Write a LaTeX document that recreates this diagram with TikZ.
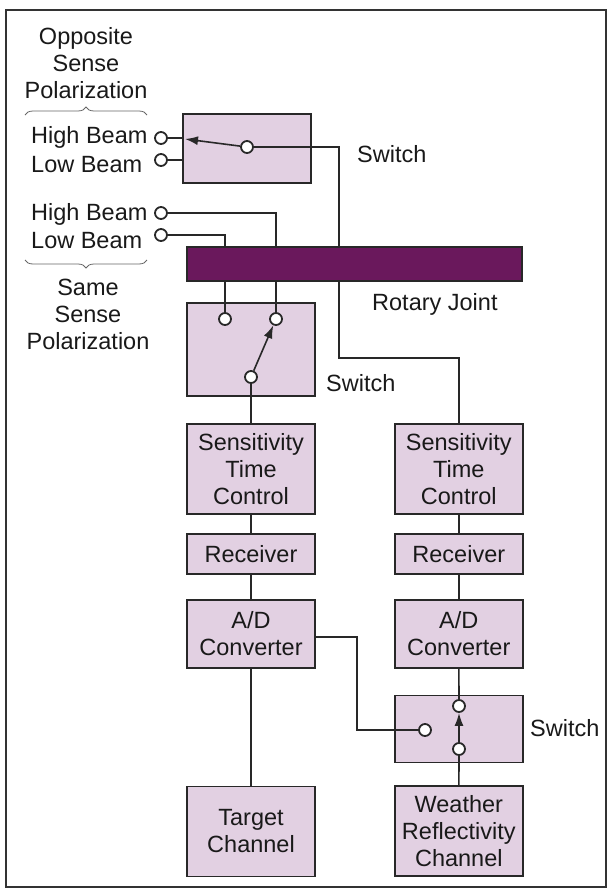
\documentclass[tikz,border=0pt]{standalone}
\usepackage{fontspec}
\setmainfont{Liberation Sans}
\usepackage{xcolor}
\usepackage{tikz}
\usetikzlibrary{arrows.meta,positioning,decorations.pathreplacing}
\definecolor{boxfill}{RGB}{226,208,226}
\definecolor{jointfill}{RGB}{106,24,92}
\definecolor{wire}{RGB}{40,40,40}
\tikzset{
  >={Latex[length=13pt,width=9pt]},
  blk/.style={draw=wire, line width=1.8pt, fill=boxfill, align=center, minimum width=128pt, inner sep=2pt, text=black!90},
  joint/.style={draw=wire, line width=1.5pt, fill=jointfill, minimum width=335pt, minimum height=34pt},
  contact/.style={circle, draw=wire, line width=1.8pt, fill=white, minimum size=12pt, inner sep=0pt},
  wirel/.style={draw=wire, line width=1.6pt},
  arm/.style={wirel, ->},
  lbl/.style={inner sep=0pt, anchor=base west, text=black!90},
  polar/.style={inner sep=0pt, align=center, text=black!90},
  bracel/.style={draw=black!60, line width=0.8pt, decorate, decoration={brace, amplitude=8pt}},
}
\begin{document}
\begin{tikzpicture}[x=1pt, y=-1pt, font=\fontsize{23.5}{27}\selectfont, node distance=18pt and 78pt]
  \useasboundingbox (0,0) rectangle (608,889);
  \draw[draw=black!80, line width=1.6pt] (6,10) rectangle (606,887);

  \node[polar] (oppo) at (86,63) {Opposite\\Sense\\Polarization};
  \node[polar] (same) at (88,314) {Same\\Sense\\Polarization};
  \draw[bracel] (25,115) -- (147,115);
  \draw[bracel] (147,260) -- (25,260);

  \node[lbl] (hbopp) at (31,143) {High Beam};
  \node[lbl] (lbopp) at (31,172) {Low Beam};
  \node[lbl] (hbsame) at (31,220) {High Beam};
  \node[lbl] (lbsame) at (31,248) {Low Beam};
  \node[contact] (hbo) at (161,138) {};
  \node[contact] (lbo) at (161,160) {};
  \node[contact] (hbs) at (161,213) {};
  \node[contact] (lbs) at (161,235) {};

  \node[blk, minimum height=69pt] (topsw) at (247,148.5) {};
  \node[contact] (toppiv) at (247,147) {};
  \coordinate (armend) at (185,139);
  \node[lbl] (toplbl) at (357,162) {Switch};

  \node[joint] (rj) at (354.5,264) {};
  \node[lbl] (rjlbl) at (372,310) {Rotary Joint};
  \coordinate (rjdrop) at (339,358);

  \node[blk, minimum height=93pt] (losw) at (251,349.5) {};
  \node[contact] (swa) at (225,319) {};
  \node[contact] (swb) at (276,319) {};
  \node[contact] (swpiv) at (251,377) {};
  \node[lbl] (lolbl) at (326,391) {Switch};

  \node[blk, minimum height=90pt] (stcl) at (251,469) {Sensitivity\\Time\\Control};
  \node[blk, minimum height=40pt, below=of stcl] (recl) {Receiver};
  \node[blk, minimum height=68pt, below=24pt of recl] (adcl) {A/D\\Converter};
  \node[blk, minimum height=90pt, below=117pt of adcl] (tgt) {Target\\Channel};

  \node[blk, minimum height=90pt, right=of stcl] (stcr) {Sensitivity\\Time\\Control};
  \node[blk, minimum height=40pt, below=of stcr] (recr) {Receiver};
  \node[blk, minimum height=68pt, below=24pt of recr] (adcr) {A/D\\Converter};
  \node[blk, minimum height=67pt, below=26pt of adcr] (bsw) {};
  \node[blk, minimum height=90pt, below=22pt of bsw] (wx) {Weather\\Reflectivity\\Channel};

  \node[contact] (bstop) at (459,706) {};
  \node[contact] (bsbot) at (459,749) {};
  \node[contact] (bsside) at (425,730) {};
  \node[lbl] (bslbl) at (530,736) {Switch};
  \coordinate (adbend) at (357,637);

  \draw[wirel] (hbo) -- (hbo -| topsw.west);
  \draw[wirel] (lbo) -- (lbo -| topsw.west);
  \draw[arm] (toppiv) -- (armend);
  \draw[wirel] (toppiv) -| (rj.north -| rjdrop);
  \draw[wirel] (rj.south -| rjdrop) -- (rjdrop) -| (stcr.north);
  \draw[wirel] (hbs) -| (rj.north -| swb);
  \draw[wirel] (lbs) -| (rj.north -| swa);
  \draw[wirel] (rj.south -| swa) -- (swa);
  \draw[wirel] (rj.south -| swb) -- (swb);
  \draw[arm] (swpiv) -- (swb);
  \draw[wirel] (swpiv) -- (stcl);
  \draw[wirel] (stcl) -- (recl);
  \draw[wirel] (recl) -- (adcl);
  \draw[wirel] (adcl) -- (tgt);
  \draw[wirel] (stcr) -- (recr);
  \draw[wirel] (recr) -- (adcr);
  \draw[wirel] (adcr) -- (bstop);
  \draw[arm] (bsbot) -- (bstop);
  \draw[wirel] (bsbot) -- (wx);
  \draw[wirel] (adcl.east |- adbend) -- (adbend) |- (bsside);
\end{tikzpicture}
\end{document}
